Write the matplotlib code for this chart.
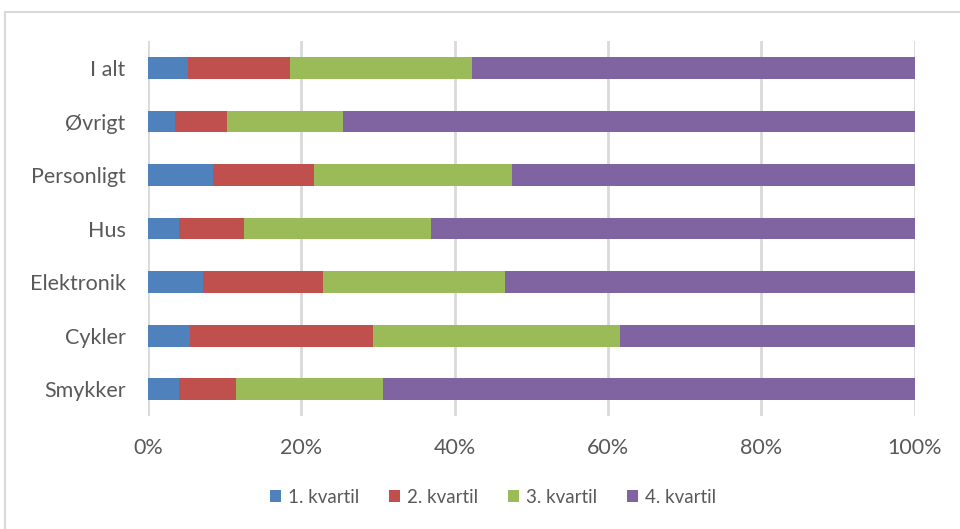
import matplotlib.pyplot as plt
from matplotlib.patches import Rectangle

# Data (shares in %)
categories = ['Smykker', 'Cykler', 'Elektronik', 'Hus', 'Personligt', 'Øvrigt', 'I alt']
q1 = [4.0, 5.5, 7.2, 4.1, 8.5, 3.5, 5.3]
q2 = [7.5, 23.9, 15.7, 8.5, 13.1, 6.8, 13.2]
q3 = [19.2, 32.2, 23.7, 24.3, 25.9, 15.2, 23.7]
q4 = [69.3, 38.4, 53.4, 63.1, 52.5, 74.5, 57.8]
series_names = ['1. kvartil', '2. kvartil', '3. kvartil', '4. kvartil']
colors = ['#4F81BD', '#C0504D', '#9BBB59', '#8064A2']
xticks = [0, 20, 40, 60, 80, 100]

plt.rcParams['font.family'] = ['Lato', 'DejaVu Sans']
text_col = '#595959'

fig = plt.figure(figsize=(9.6, 5.29), dpi=100)
ax = fig.add_axes([0.154, 0.214, 0.799, 0.708])

# light frame around the chart, as in the source screenshot
fig.patches.append(Rectangle((5 / 960, -0.1), 1.2, 1 - 12 / 529 + 0.1,
                             transform=fig.transFigure, fill=False,
                             edgecolor='#D9D9D9', linewidth=1.5))

y = range(len(categories))
left = [0] * len(categories)
for vals, name, c in zip([q1, q2, q3, q4], series_names, colors):
    ax.barh(y, vals, left=left, height=0.41, color=c, label=name, zorder=3)
    left = [a + b for a, b in zip(left, vals)]

ax.set_xlim(0, 100)
ax.set_ylim(-0.5, len(categories) - 0.5)
ax.set_xticks(xticks)
ax.set_xticklabels([f'{t}%' for t in xticks])
ax.set_yticks(list(y))
ax.set_yticklabels(categories)
ax.tick_params(axis='both', length=0, labelsize=15.5, colors=text_col)
ax.tick_params(axis='x', pad=16)
ax.tick_params(axis='y', pad=16)
ax.xaxis.grid(True, color='#D9D9D9', linewidth=2, zorder=0)
for s in ax.spines.values():
    s.set_visible(False)

ax.legend(loc='center', bbox_to_anchor=(0.45, -0.218), ncol=4, frameon=False,
          fontsize=13.5, handlelength=0.6, handleheight=0.6, handletextpad=0.35,
          columnspacing=1.6, labelcolor=text_col)

plt.savefig('out.png', dpi=100)
plt.close()
